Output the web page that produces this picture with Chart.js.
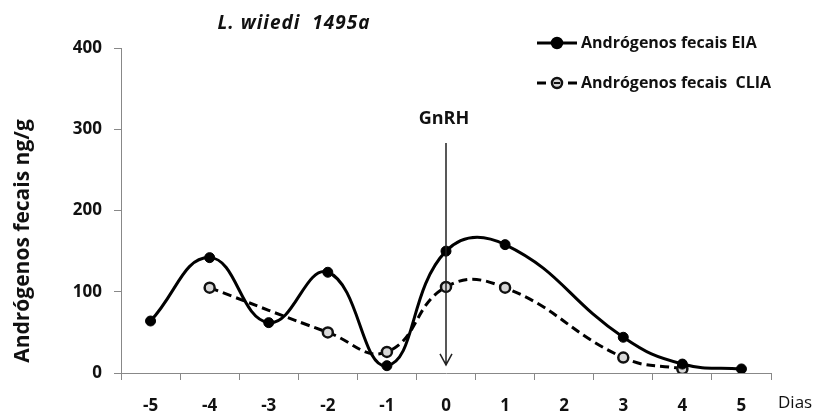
<!DOCTYPE html>
<html>
<head>
<meta charset="utf-8">
<script src="https://cdn.jsdelivr.net/npm/chart.js@4/dist/chart.umd.min.js"></script>
<style>
  html, body { margin: 0; padding: 0; background: #fff; }
  #wrap { width: 816px; height: 416px; }
</style>
</head>
<body>
<div id="wrap"><canvas id="chart"></canvas></div>
<script>
// days relative to the GnRH injection
const dias = ['-5', '-4', '-3', '-2', '-1', '0', '1', '2', '3', '4', '5'];
// faecal androgens, ng/g
const eia = [64, 142, 62, 124, 9, 150, 158, null, 44, 11, 5];
const clia = [null, 105, null, 50, 26, 106, 105, null, 19, 5, null];
const yTicks = [0, 100, 200, 300, 400];

const gnrhDay = '0';
const gnrhFrom = 283;
const gnrhTo = 10;

const FONT = '"Open Sans", Lato, sans-serif';

// title, legend, axis captions and the GnRH arrow
const extras = {
  id: 'extras',
  afterDraw(chart) {
    const ctx = chart.ctx;
    const x = chart.scales.x, y = chart.scales.y;
    ctx.save();
    ctx.fillStyle = '#111';
    ctx.textBaseline = 'middle';

    ctx.font = 'italic bold 19px ' + FONT;
    ctx.textAlign = 'center';
    ctx.letterSpacing = '1px';
    ctx.fillText('L. wiiedi  1495a', 294, 24);
    ctx.letterSpacing = '0px';

    ctx.save();
    ctx.translate(23, 241);
    ctx.rotate(-Math.PI / 2);
    ctx.font = 'bold 21px ' + FONT;
    ctx.fillText('Andrógenos fecais ng/g', 0, 0);
    ctx.restore();

    ctx.font = '17px ' + FONT;
    ctx.textAlign = 'left';
    ctx.fillText('Dias', 778, 403);

    // GnRH arrow
    const ax = x.getPixelForValue(dias.indexOf(gnrhDay));
    const top = y.getPixelForValue(gnrhFrom), tip = y.getPixelForValue(gnrhTo);
    ctx.font = 'bold 18px ' + FONT;
    ctx.textAlign = 'center';
    ctx.fillText('GnRH', ax - 2, 119);
    ctx.strokeStyle = '#222';
    ctx.lineWidth = 1.5;
    ctx.beginPath();
    ctx.moveTo(ax, top);
    ctx.lineTo(ax, tip);
    ctx.moveTo(ax - 6, tip - 11);
    ctx.lineTo(ax, tip);
    ctx.lineTo(ax + 6, tip - 11);
    ctx.stroke();

    // legend
    ctx.font = 'bold 16px ' + FONT;
    ctx.textAlign = 'left';
    chart.data.datasets.forEach((ds, i) => {
      const ly = 43 + i * 40;
      ctx.strokeStyle = ds.borderColor;
      ctx.lineWidth = 3;
      ctx.setLineDash([]);
      ctx.beginPath();
      if (ds.borderDash) {
        ctx.moveTo(537, ly); ctx.lineTo(546, ly);
        ctx.moveTo(568, ly); ctx.lineTo(577, ly);
      } else {
        ctx.moveTo(537, ly); ctx.lineTo(577, ly);
      }
      ctx.stroke();
      ctx.beginPath();
      ctx.arc(557, ly, 5, 0, Math.PI * 2);
      ctx.fillStyle = ds.pointBackgroundColor;
      ctx.fill();
      ctx.lineWidth = 2.5;
      ctx.strokeStyle = ds.pointBorderColor;
      ctx.stroke();
      if (ds.borderDash) {
        ctx.lineWidth = 2;
        ctx.beginPath();
        ctx.moveTo(554, ly); ctx.lineTo(560, ly);
        ctx.stroke();
      }
      ctx.fillStyle = '#111';
      ctx.fillText(ds.label, 581, ly);
    });
    ctx.restore();
  }
};

new Chart(document.getElementById('chart'), {
  type: 'line',
  data: {
    labels: dias,
    datasets: [
      {
        label: 'Andrógenos fecais EIA',
        data: eia,
        borderColor: '#000',
        borderWidth: 3,
        pointRadius: 5,
        pointBackgroundColor: '#000',
        pointBorderColor: '#000',
        pointBorderWidth: 1,
        tension: 0.45,
        spanGaps: true
      },
      {
        label: 'Andrógenos fecais  CLIA',
        data: clia,
        borderColor: '#000',
        borderWidth: 3,
        borderDash: [9, 5],
        pointRadius: 5,
        pointBackgroundColor: '#d8d8d8',
        pointBorderColor: '#111',
        pointBorderWidth: 2.5,
        tension: 0.45,
        spanGaps: true
      }
    ]
  },
  options: {
    responsive: true,
    maintainAspectRatio: false,
    animation: false,
    layout: { padding: { top: 48, right: 45, left: 0, bottom: 0 } },
    plugins: {
      legend: { display: false },
      tooltip: { enabled: false }
    },
    scales: {
      x: {
        offset: true,
        grid: { offset: true, drawOnChartArea: false, tickLength: 7, color: '#888' },
        border: { color: '#888', width: 1 },
        ticks: { color: '#111', padding: 16, font: { family: FONT, size: 17, weight: 'bold' } },
        afterFit(scale) { scale.height = 43; }
      },
      y: {
        min: 0,
        max: 400,
        afterBuildTicks(scale) { scale.ticks = yTicks.map(v => ({ value: v })); },
        grid: { drawOnChartArea: false, tickLength: 7, color: '#888' },
        border: { color: '#888', width: 1 },
        ticks: { color: '#111', padding: 12, font: { family: FONT, size: 17, weight: 'bold' } },
        afterFit(scale) { scale.width = 121; }
      }
    }
  },
  plugins: [extras]
});
</script>
</body>
</html>
